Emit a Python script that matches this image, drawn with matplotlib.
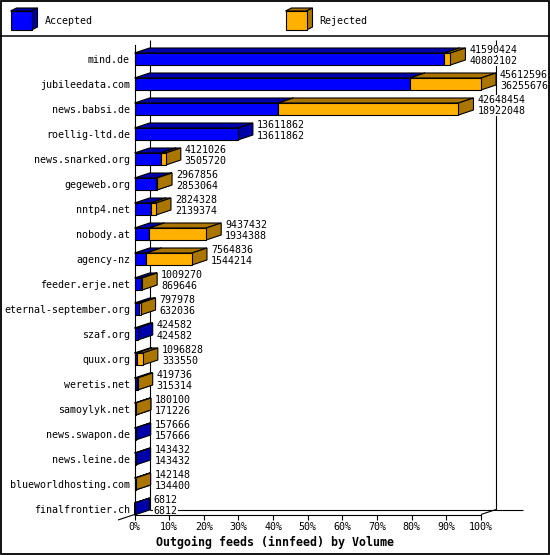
import matplotlib
matplotlib.use('Agg')
import matplotlib.pyplot as plt
from matplotlib.patches import Polygon, Rectangle

# ---------------- data ----------------
hosts = ["mind.de", "jubileedata.com", "news.babsi.de", "roellig-ltd.de",
         "news.snarked.org", "gegeweb.org", "nntp4.net", "nobody.at",
         "agency-nz", "feeder.erje.net", "eternal-september.org", "szaf.org",
         "quux.org", "weretis.net", "samoylyk.net", "news.swapon.de",
         "news.leine.de", "blueworldhosting.com", "finalfrontier.ch"]
offered = [41590424, 45612596, 42648454, 13611862, 4121026, 2967856, 2824328,
           9437432, 7564836, 1009270, 797978, 424582, 1096828, 419736, 180100,
           157666, 143432, 142148, 6812]
accepted = [40802102, 36255676, 18922048, 13611862, 3505720, 2853064, 2139374,
            1934388, 1544214, 869646, 632036, 424582, 333550, 315314, 171226,
            157666, 143432, 134400, 6812]
tick_values = list(range(0, 101, 10))
tick_labels = [f"{v}%" for v in tick_values]
title = "Outgoing feeds (innfeed) by Volume"
legend_labels = ["Accepted", "Rejected"]

# ---------------- style ----------------
FONT = 'DejaVu Sans Mono'
FS = 7.2
BLUE, BLUE_D = '#0000FF', '#0000AA'
ORANGE, ORANGE_D = '#FFB000', '#AA7600'
LW = 0.8

W, H = 550, 555
fig = plt.figure(figsize=(W / 100, H / 100), dpi=100)
fig.patch.set_facecolor('white')

# overlay axes in pixel space for frame / legend
ov = fig.add_axes([0, 0, 1, 1], zorder=0)
ov.set_xlim(0, W)
ov.set_ylim(H, 0)
ov.axis('off')
ov.add_patch(Rectangle((0.5, 0.5), W - 1.5, H - 1.5, fill=False, lw=1.3, ec='black'))
ov.plot([0, W], [35.5, 35.5], color='black', lw=1.1)


def cube(axh, x, y, w, h, dx, dy, front, dark):
    axh.add_patch(Polygon([(x, y), (x + w, y), (x + w + dx, y - dy), (x + dx, y - dy)],
                          closed=True, fc=dark, ec='black', lw=LW))
    axh.add_patch(Polygon([(x + w, y), (x + w + dx, y - dy), (x + w + dx, y + h - dy), (x + w, y + h)],
                          closed=True, fc=dark, ec='black', lw=LW))
    axh.add_patch(Rectangle((x, y), w, h, fc=front, ec='black', lw=LW))


leg_x = [10.5, 285.5]
leg_cols = [(BLUE, BLUE_D), (ORANGE, ORANGE_D)]
for lx, lab, (c1, c2) in zip(leg_x, legend_labels, leg_cols):
    cube(ov, lx, 11, 21, 19, 6, 3, c1, c2)
    ov.text(lx + 34, 20.5, lab, fontsize=FS, family=FONT, va='center', ha='left')

fig.text(155.5 / W, 1 - 542 / H, title, fontsize=8.4, family=FONT,
         fontweight='bold', va='center', ha='left')

# ---------------- main axes ----------------
PX_PER_PCT = 3.465
ROW_PX = 25.0
left_px, right_px = 134.5, 481.0
top_px, bot_px = 45.0, 514.5
ax = fig.add_axes([left_px / W, (H - bot_px) / H, (right_px - left_px) / W, (bot_px - top_px) / H],
                  zorder=1)
ax.set_xlim(0, 100)
ax.set_ylim((bot_px - 59) / ROW_PX, (top_px - 59) / ROW_PX)
ax.patch.set_alpha(0)
for s in ['top', 'right']:
    ax.spines[s].set_visible(False)
for s in ['left', 'bottom']:
    ax.spines[s].set_linewidth(LW)
    ax.spines[s].set_zorder(6)

DX = 15 / PX_PER_PCT
DY = 5 / ROW_PX
HH = 6 / ROW_PX
ybot = (bot_px - 59) / ROW_PX
yback_top = (40 - 59) / ROW_PX

# back wall / floor lines
kw = dict(color='black', lw=LW, clip_on=False, zorder=1, solid_capstyle='butt')
ax.plot([DX, DX], [yback_top, ybot - DY], **kw)
ax.plot([100 + DX, 100 + DX], [yback_top, ybot - DY], **kw)
ax.plot([DX, (523 - left_px) / PX_PER_PCT], [ybot - DY, ybot - DY], **kw)
ax.plot([100, 100 + DX], [ybot, ybot - DY], **kw)
ax.plot([-DX * 1.1, 0], [ybot + DY * 1.1, ybot], **kw)


def box(x0, x1, r, front, dark, z):
    top, bot = r - HH, r + HH
    ax.add_patch(Polygon([(x0, top), (x1, top), (x1 + DX, top - DY), (x0 + DX, top - DY)],
                         closed=True, fc=dark, ec='black', lw=LW, clip_on=False, zorder=z))
    ax.add_patch(Polygon([(x1, top), (x1 + DX, top - DY), (x1 + DX, bot - DY), (x1, bot)],
                         closed=True, fc=dark, ec='black', lw=LW, clip_on=False, zorder=z))
    ax.add_patch(Polygon([(x0, bot), (x1, bot), (x1, top), (x0, top)],
                         closed=True, fc=front, ec='black', lw=LW, clip_on=False, zorder=z))


maxv = max(offered)
for i, (o, a) in enumerate(zip(offered, accepted)):
    pa = a / maxv * 100
    pt = o / maxv * 100
    box(0, pa, i, BLUE, BLUE_D, 3)
    if pt > pa:
        box(pa, pt, i, ORANGE, ORANGE_D, 4)
    tx = pt + DX + 4 / PX_PER_PCT
    tkw = dict(fontsize=FS, family=FONT, va='center', ha='left', clip_on=False, zorder=5,
               bbox=dict(fc='white', ec='none', pad=0.3))
    ax.text(tx, i - 9 / ROW_PX, str(o), **tkw)
    ax.text(tx, i + 2 / ROW_PX, str(a), **tkw)

ax.set_xticks(tick_values)
ax.set_xticklabels(tick_labels, fontsize=FS, family=FONT)
ax.tick_params(axis='x', direction='out', length=3.3, width=LW, pad=2.2)
ax.set_yticks(range(len(hosts)))
ax.set_yticklabels(hosts, fontsize=FS, family=FONT)
ax.tick_params(axis='y', length=0, pad=3.3)

fig.savefig('out.png', dpi=100, facecolor='white')
